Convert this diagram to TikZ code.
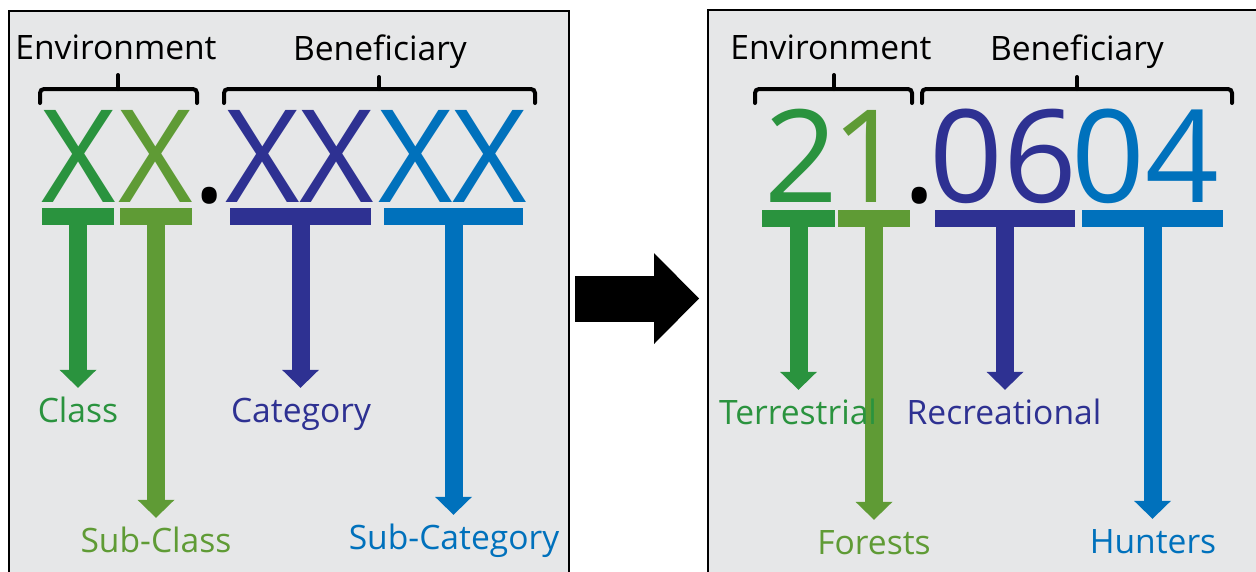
\documentclass[tikz,border=0pt]{standalone}
\usepackage{fontspec}
\setmainfont{Open Sans}
\usetikzlibrary{arrows.meta, positioning, backgrounds}

\definecolor{panelgray}{RGB}{230,231,232}
\definecolor{envdark}{RGB}{42,147,62}
\definecolor{envlight}{RGB}{95,155,53}
\definecolor{benpurple}{RGB}{46,49,146}
\definecolor{benblue}{RGB}{0,113,188}

\begin{document}
\begin{tikzpicture}[x=1pt, y=-1pt,
    panel/.style={rectangle, draw=black, line width=2pt, fill=panelgray, anchor=north west, inner sep=0pt},
    heading/.style={anchor=base, inner sep=0pt, font=\fontsize{33.6}{40}\selectfont},
    glyph/.style={anchor=base, inner sep=0pt, font=\fontsize{129}{129}\selectfont},
    bar/.style={rectangle, inner sep=0pt, minimum height=17pt},
    codename/.style={anchor=base, inner sep=0pt, text height=26pt, font=\fontsize{33.6}{40}\selectfont},
    fatarrow/.style={line width=18pt, -{Triangle[width=37pt, length=18pt, line width=0pt]}, shorten >=8pt},
    brace/.style={line width=4pt, rounded corners=4pt, line cap=round}
]
\useasboundingbox (0,0) rectangle (1256,571);

% ==== Panels ====
\begin{scope}[on background layer]
\node[panel, minimum width=560pt, minimum height=575pt] (leftpanel) at (8,10) {};
\node[panel, minimum width=560pt, minimum height=575pt] (rightpanel) at (707,9) {};
\draw[line width=46pt, -{Triangle[width=91pt, length=45pt, line width=0pt]}]
    ([xshift=5pt]leftpanel.east) -- ([xshift=-8pt]rightpanel.west |- leftpanel.east);
\end{scope}

% ==== Left panel: code pattern ====
\node[heading] (envL) at (116,59) {Environment};
\node[heading] (benL) at (380,60) {Beneficiary};
\draw[brace] (40,103) -- (40,89) -- (197,89) -- (197,103);
\draw[brace] (118,89) -- (118,75);
\draw[brace] (224,103) -- (224,89) -- (535,89) -- (535,103);
\draw[brace] (379,89) -- (379,77);

\node[glyph, text=envdark] (classL) at (79,202) {X};
\node[glyph, text=envlight] (subclassL) at (156,202) {X};
\node[glyph] (dotL) at (210,202) {.};
\node[glyph, text=benpurple] (catL) at (300,202) {XX};
\node[glyph, text=benblue] (subcatL) at (453,202) {XX};

\node[bar, fill=envdark, minimum width=72pt] (classbarL) at (78,216.5) {};
\node[bar, fill=envlight, minimum width=72pt] (subclassbarL) at (156,216.5) {};
\node[bar, fill=benpurple, minimum width=141pt] (catbarL) at (300.5,216.5) {};
\node[bar, fill=benblue, minimum width=139pt] (subcatbarL) at (453.5,216.5) {};

\node[codename, text=envdark] (classtxt) at (78,422) {Class};
\node[codename, text=envlight] (subclasstxt) at (156,552) {Sub-Class};
\node[codename, text=benpurple] (cattxt) at (301,422) {Category};
\node[codename, text=benblue] (subcattxt) at (454,549) {Sub-Category};

% ==== Right panel: example code ====
\node[heading] (envR) at (831,59) {Environment};
\node[heading] (benR) at (1077,60) {Beneficiary};
\draw[brace] (755,103) -- (755,89) -- (912,89) -- (912,103);
\draw[brace] (834,89) -- (834,75);
\draw[brace] (922,103) -- (922,89) -- (1232,89) -- (1232,103);
\draw[brace] (1077,89) -- (1077,77);

\node[glyph, text=envdark] (classR) at (801,202) {2};
\node[glyph, text=envlight] (subclassR) at (868,202) {1};
\node[glyph] (dotR) at (920,202) {.};
\node[glyph, text=benpurple] (catR) at (1003,202) {06};
\node[glyph, text=benblue] (subcatR) at (1145,202) {04};

\node[bar, fill=envdark, minimum width=73pt] (classbarR) at (798.5,218.5) {};
\node[bar, fill=envlight, minimum width=72pt] (subclassbarR) at (874,218.5) {};
\node[bar, fill=benpurple, minimum width=140pt] (catbarR) at (1005,218.5) {};
\node[bar, fill=benblue, minimum width=141pt] (subcatbarR) at (1152.5,218.5) {};

\node[codename, text=envdark] (terrtxt) at (798,424) {Terrestrial};
\node[codename, text=envlight] (foresttxt) at (874,554) {Forests};
\node[codename, text=benpurple] (recrtxt) at (1004,424) {Recreational};
\node[codename, text=benblue] (hunttxt) at (1153,553) {Hunters};

% ==== Arrows ====
\begin{scope}[on background layer]
\draw[fatarrow, envdark] (classbarL.south) -- (classbarL.south |- classtxt.north);
\draw[fatarrow, envlight] (subclassbarL.south) -- (subclassbarL.south |- subclasstxt.north);
\draw[fatarrow, benpurple] (catbarL.south) -- (catbarL.south |- cattxt.north);
\draw[fatarrow, benblue] (subcatbarL.south) -- (subcatbarL.south |- subcattxt.north);
\draw[fatarrow, envdark] (classbarR.south) -- (classbarR.south |- terrtxt.north);
\draw[fatarrow, envlight] (subclassbarR.south) -- (subclassbarR.south |- foresttxt.north);
\draw[fatarrow, benpurple] (catbarR.south) -- (catbarR.south |- recrtxt.north);
\draw[fatarrow, benblue] (subcatbarR.south) -- (subcatbarR.south |- hunttxt.north);
\end{scope}

\end{tikzpicture}
\end{document}
